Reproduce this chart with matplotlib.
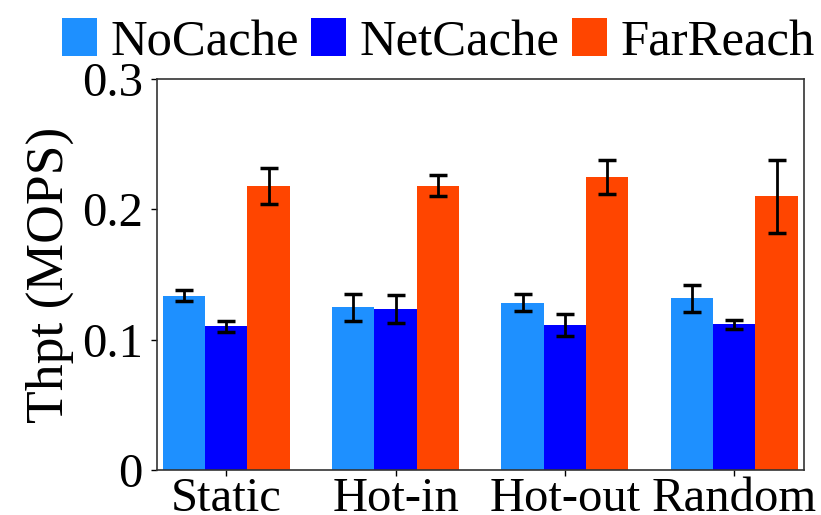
import matplotlib
matplotlib.use("Agg")
import matplotlib.pyplot as plt
import numpy as np

plt.rcParams['font.family'] = ['Liberation Serif', 'DejaVu Serif']

categories = ["Static", "Hot-in", "Hot-out", "Random"]
series = ["NoCache", "NetCache", "FarReach"]
colors = ["#1E90FF", "#0000FF", "#FF4500"]

nocache = [0.1337, 0.1248, 0.1284, 0.1317]
netcache = [0.1102, 0.1235, 0.1110, 0.1117]
farreach = [0.2180, 0.2183, 0.2250, 0.2100]

nocache_err = [0.0041, 0.0102, 0.0067, 0.0105]
netcache_err = [0.0044, 0.0110, 0.0085, 0.0037]
farreach_err = [0.0136, 0.0082, 0.0130, 0.0280]

values = [nocache, netcache, farreach]
errors = [nocache_err, netcache_err, farreach_err]

fig = plt.figure(figsize=(8.21, 5.15), dpi=100)
ax = fig.add_axes([0.191, 0.088, 0.788, 0.758])

x = np.arange(len(categories))
width = 0.25
for i, (name, vals, errs, c) in enumerate(zip(series, values, errors, colors)):
    ax.bar(x + (i - 1) * width, vals, width, color=c, label=name,
           yerr=errs, capsize=6.2,
           error_kw=dict(ecolor="black", elinewidth=2, capthick=2.5))

ax.set_xlim(-0.41, 3.41)
ax.set_ylim(0, 0.3)
ax.set_yticks([0, 0.1, 0.2, 0.3])
ax.set_yticklabels(["0", "0.1", "0.2", "0.3"])
ax.set_xticks(x)
ax.set_xticklabels(categories)
ax.tick_params(axis="both", labelsize=35, length=4, width=1)
ax.tick_params(axis="x", pad=1)
ax.tick_params(axis="y", pad=6)
ax.set_ylabel("Thpt (MOPS)", fontsize=38.5)
ax.yaxis.set_label_coords(-0.128, 0.5)
for s in ax.spines.values():
    s.set_color("#333333")
    s.set_linewidth(1.2)

ax.legend(loc="center", bbox_to_anchor=(0.5335, 0.918), bbox_transform=fig.transFigure,
          ncol=3, frameon=False, fontsize=36.5, handlelength=0.69, handleheight=0.77,
          handletextpad=0.27, columnspacing=0.24, borderpad=0.1)

fig.savefig("out.png", dpi=100)
